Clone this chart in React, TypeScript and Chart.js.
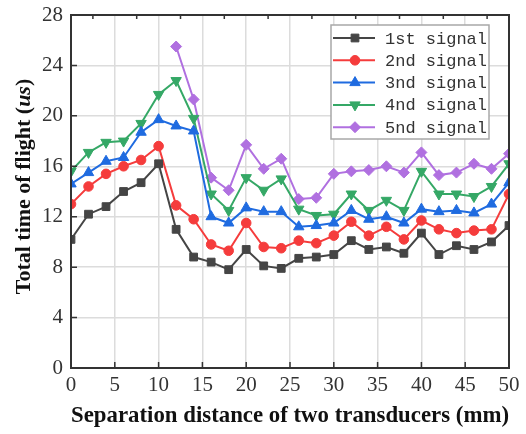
import { useEffect, useRef } from "react";
import { Chart, registerables } from "chart.js";
import { drawPoint } from "chart.js/helpers";

Chart.register(...registerables);

const distances = [0, 2, 4, 6, 8, 10, 12, 14, 16, 18, 20, 22, 24, 26, 28, 30, 32, 34, 36, 38, 40, 42, 44, 46, 48, 50];
const signal1 = [10.2, 12.2, 12.8, 14.0, 14.7, 16.2, 11.0, 8.8, 8.4, 7.8, 9.4, 8.1, 7.9, 8.7, 8.8, 9.0, 10.1, 9.4, 9.6, 9.1, 10.7, 9.0, 9.7, 9.4, 10.0, 11.3];
const signal2 = [13.0, 14.4, 15.4, 16.0, 16.5, 17.6, 12.9, 11.8, 9.8, 9.3, 11.5, 9.6, 9.5, 10.1, 9.9, 10.5, 11.6, 10.5, 11.2, 10.2, 11.7, 11.0, 10.7, 10.9, 11.0, 13.8];
const signal3 = [14.6, 15.5, 16.4, 16.7, 18.7, 19.7, 19.2, 18.8, 12.0, 11.5, 12.7, 12.4, 12.4, 11.2, 11.3, 11.5, 12.5, 11.8, 12.0, 11.5, 12.6, 12.4, 12.5, 12.3, 13.0, 14.7];
const signal4 = [15.6, 17.1, 17.9, 18.0, 19.4, 21.7, 22.8, 19.8, 13.8, 12.5, 15.1, 14.1, 15.0, 12.6, 12.1, 12.2, 13.8, 12.5, 13.3, 12.5, 15.6, 13.8, 13.8, 13.6, 14.4, 16.2];
const signal5 = [null, null, null, null, null, null, 25.5, 21.3, 15.1, 14.1, 17.7, 15.8, 16.6, 13.4, 13.5, 15.4, 15.6, 15.7, 16.0, 15.5, 17.1, 15.3, 15.5, 16.2, 15.8, 17.0];

const seriesNames = ["1st signal", "2nd signal", "3nd signal", "4nd signal", "5nd signal"];
const seriesValues = [signal1, signal2, signal3, signal4, signal5];
const seriesColors = ["#454545", "#f53c3c", "#1f6be0", "#35a866", "#b070e0"];
const seriesMarkers = ["rect", "circle", "triangle", "triangle", "rectRot"];
const seriesRotation = [0, 0, 0, 180, 0];
const seriesRadius = [5.5, 4.8, 6, 6, 5.5];

const xTitle = "Separation distance of two transducers (mm)";
const yTitleParts = ["Total time of flight (", "us", ")"];

const SERIF = "'Liberation Serif', 'Times New Roman', serif";

const framePlugin = {
  id: "frame",
  afterDatasetsDraw(chart: any) {
    const { ctx, chartArea: a, scales } = chart;
    const xs = scales.x;
    const ys = scales.y;
    ctx.save();
    ctx.strokeStyle = "#333";
    ctx.lineWidth = 2;
    ctx.strokeRect(a.left, a.top, a.right - a.left, a.bottom - a.top);
    ctx.lineWidth = 1.5;
    ctx.beginPath();
    for (let v = 5; v < 50; v += 5) {
      const px = xs.getPixelForValue(v);
      ctx.moveTo(px, a.bottom);
      ctx.lineTo(px, a.bottom - 6);
    }
    for (let v = 2.5; v < 50; v += 5) {
      const px = xs.getPixelForValue(v);
      ctx.moveTo(px, a.top);
      ctx.lineTo(px, a.top + 4);
    }
    for (let v = 4; v < 28; v += 4) {
      const py = ys.getPixelForValue(v);
      ctx.moveTo(a.left, py);
      ctx.lineTo(a.left + 6, py);
    }
    ctx.stroke();
    ctx.restore();
  },
  afterDraw(chart: any) {
    const { ctx, chartArea: a } = chart;
    // legend
    ctx.save();
    const boxW = 158;
    const boxH = 114;
    const bx = a.right - 20 - boxW;
    const by = a.top + 10;
    ctx.fillStyle = "#ffffff";
    ctx.fillRect(bx, by, boxW, boxH);
    ctx.strokeStyle = "#a8a8a8";
    ctx.lineWidth = 1.5;
    ctx.strokeRect(bx, by, boxW, boxH);
    ctx.font = "17px 'Liberation Mono', 'DejaVu Sans Mono', monospace";
    ctx.textBaseline = "middle";
    ctx.textAlign = "left";
    chart.data.datasets.forEach((ds: any, i: number) => {
      const cy = by + 13 + i * 22.3;
      ctx.strokeStyle = ds.borderColor;
      ctx.lineWidth = 2;
      ctx.beginPath();
      ctx.moveTo(bx + 2, cy);
      ctx.lineTo(bx + 44, cy);
      ctx.stroke();
      ctx.fillStyle = ds.backgroundColor;
      ctx.strokeStyle = ds.borderColor;
      ctx.lineWidth = 1;
      drawPoint(ctx, { pointStyle: ds.pointStyle, rotation: ds.pointRotation, radius: ds.pointRadius, borderWidth: 1 }, bx + 24, cy);
      ctx.fillStyle = "#333";
      ctx.fillText(ds.label, bx + 54, cy + 1);
    });
    ctx.restore();

    // y title with italic unit
    ctx.save();
    const fonts = [`bold 22px ${SERIF}`, `italic bold 22px ${SERIF}`, `bold 22px ${SERIF}`];
    let total = 0;
    const widths = yTitleParts.map((t, i) => {
      ctx.font = fonts[i];
      const w = ctx.measureText(t).width;
      total += w;
      return w;
    });
    ctx.translate(24, (a.top + a.bottom) / 2 - 5);
    ctx.rotate(-Math.PI / 2);
    ctx.fillStyle = "#111";
    ctx.textBaseline = "middle";
    ctx.textAlign = "left";
    let x = -total / 2;
    yTitleParts.forEach((t, i) => {
      ctx.font = fonts[i];
      ctx.fillText(t, x, 0);
      x += widths[i];
    });
    ctx.restore();
  },
};

export default function App() {
  const ref = useRef<HTMLCanvasElement | null>(null);
  useEffect(() => {
    document.body.style.margin = "0";
    const canvas = ref.current;
    if (!canvas) return;
    const datasets = seriesNames.map((name, i) => ({
      label: name,
      data: distances.map((d, j) => ({ x: d, y: seriesValues[i][j] })),
      borderColor: seriesColors[i],
      backgroundColor: seriesColors[i],
      pointBackgroundColor: seriesColors[i],
      pointBorderColor: seriesColors[i],
      pointStyle: seriesMarkers[i],
      pointRotation: seriesRotation[i],
      pointRadius: seriesRadius[i],
      pointBorderWidth: 1,
      borderWidth: 2,
      tension: 0,
      spanGaps: false,
    }));
    const chart = new Chart(canvas, {
      type: "line",
      data: { datasets },
      plugins: [framePlugin],
      options: {
        animation: false,
        responsive: true,
        maintainAspectRatio: false,
        devicePixelRatio: 1,
        layout: { padding: { left: 0, right: 17, top: 15, bottom: 0 } },
        plugins: { legend: { display: false }, tooltip: { enabled: false } },
        scales: {
          x: {
            type: "linear",
            min: 0,
            max: 50,
            ticks: { stepSize: 5, color: "#333", padding: 5, font: { family: SERIF, size: 21 } },
            grid: { color: "#dcdcdc", lineWidth: 1.5, drawTicks: false },
            border: { display: false },
            title: { display: true, text: xTitle, color: "#111", padding: { top: 0, bottom: 4 }, font: { family: SERIF, size: 23, weight: "bold" } },
            afterFit: (s: any) => { s.height = 66; s.paddingLeft = 0; s.paddingRight = 0; },
          },
          y: {
            min: 0,
            max: 28,
            ticks: { stepSize: 4, color: "#333", padding: 8, font: { family: SERIF, size: 21 } },
            grid: { color: "#dcdcdc", lineWidth: 1.5, drawTicks: false },
            border: { display: false },
            afterFit: (s: any) => { s.width = 71; s.paddingTop = 0; s.paddingBottom = 0; },
          },
        },
      },
    } as any);
    return () => chart.destroy();
  }, []);
  return (
    <div style={{ width: 526, height: 434, position: "relative" }}>
      <canvas ref={ref} />
    </div>
  );
}
